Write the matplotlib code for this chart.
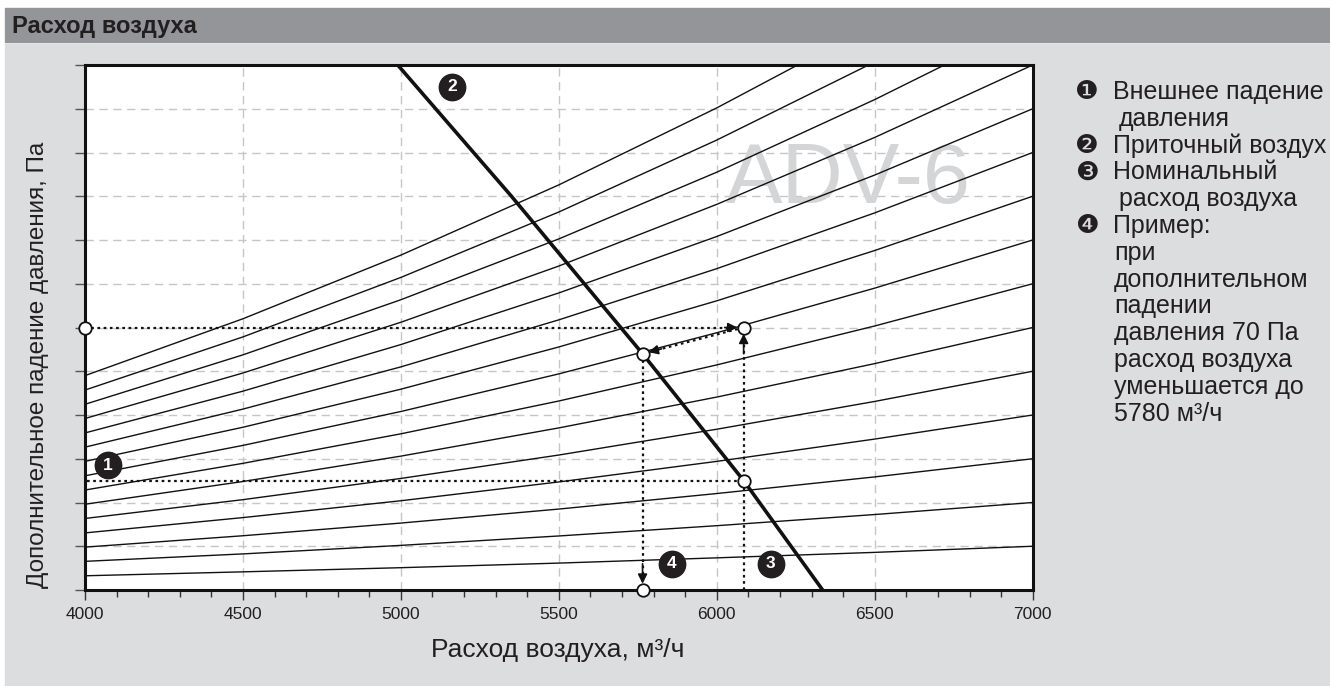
import matplotlib
matplotlib.use("Agg")
import matplotlib.pyplot as plt
from matplotlib.patches import Rectangle
from matplotlib.ticker import MultipleLocator

plt.rcParams['font.family'] = ['Liberation Sans', 'DejaVu Sans']

# ---- data ----
flow_ticks = [4000, 4500, 5000, 5500, 6000, 6500, 7000]
curve_flow = [4000, 4500, 5000, 5500, 6000, 6500, 7000]
# system curves (Pa) read at the flows above
system_curves = [
    [6.5, 8.3, 10.2, 12.3, 14.7, 17.2, 20],
    [13.1, 16.5, 20.4, 24.7, 29.4, 34.5, 40],
    [19.6, 24.8, 30.6, 37.0, 44.1, 51.7, 60],
    [26.1, 33.1, 40.8, 49.4, 58.8, 69.0, 80],
    [32.7, 41.3, 51.0, 61.7, 73.5, 86.2, 100],
    [39.2, 49.6, 61.2, 74.1, 88.2, 103.5, 120],
    [45.7, 57.9, 71.4, 86.4, 102.9, 120.7, 140],
    [52.2, 66.1, 81.6, 98.8, 117.6, 138.0, 160],
    [58.8, 74.4, 91.8, 111.1, 132.2, 155.2, 180],
    [65.3, 82.7, 102.0, 123.5, 146.9, 172.4, 200],
    [71.8, 90.9, 112.2, 135.8, 161.6, 189.7, 220],
    [78.4, 99.2, 122.4, 148.1, 176.3, 206.9, 240],
    [84.9, 107.5, 132.7, 160.5, 191.0, 224.2, 260],
    [91.4, 115.7, 142.9, 172.8, 205.7, 241.4, 280],
    [98.0, 124.0, 153.1, 185.2, 220.4, 258.7, 300],
]
# supply air (fan) curve
fan_flow = [4990, 5350, 5765, 6085, 6335]
fan_pa = [240, 180, 108, 50, 0]

# worked example
nominal_flow = 6085
external_pa = 50
extra_pa = 120
reduced_flow = 5765
reduced_pa = 108

badges = [('1', 4073, 57), ('2', 5162, 230), ('3', 6170, 12), ('4', 5857, 12)]

legend_rows = [
    ('❶', 'Внешнее падение', 0), (None, 'давления', 1),
    ('❷', 'Приточный воздух', 0),
    ('❸', 'Номинальный', 0), (None, 'расход воздуха', 1),
    ('❹', 'Пример:', 0), (None, 'при', 2), (None, 'дополнительном', 2),
    (None, 'падении', 2), (None, 'давления 70 Па', 2),
    (None, 'расход воздуха', 2), (None, 'уменьшается до', 2),
    (None, '5780 м³/ч', 2),
]

W, H = 1330, 686
fig = plt.figure(figsize=(W / 100, H / 100), dpi=100, facecolor='white')

# background panels
fig.patches.append(Rectangle((5 / W, 0), 1, 1 - 44 / H, transform=fig.transFigure,
                             color='#dcdddf', zorder=-10))
fig.patches.append(Rectangle((5 / W, 1 - 42 / H), 1, 34 / H, transform=fig.transFigure,
                             color='#939598', zorder=-10))
fig.text(12 / W, 1 - 26 / H, 'Расход воздуха', fontsize=17, fontweight='bold',
         color='#231f20', va='center', ha='left')

ax = fig.add_axes([85 / W, 96 / H, 947.7 / W, 525 / H])
ax.set_zorder(2)
ax.set_facecolor('white')
ax.set_xlim(4000, 7000)
ax.set_ylim(0, 240)

ax.xaxis.set_minor_locator(MultipleLocator(100))
ax.yaxis.set_major_locator(MultipleLocator(20))
ax.set_xticks(flow_ticks)
ax.set_xticklabels([str(v) for v in flow_ticks])
ax.set_yticklabels([])
ax.tick_params(axis='x', which='major', length=7, width=1, color='#333333',
               labelsize=12.5, pad=5, labelcolor='#231f20')
ax.tick_params(axis='x', which='minor', length=5, width=1, color='#333333')
ax.tick_params(axis='y', which='major', length=7, width=1, color='#555555')
for s in ax.spines.values():
    s.set_linewidth(2.2)
    s.set_color('#111111')

ax.grid(True, which='major', linestyle=(0, (6, 4)), color='#c6c6c6', linewidth=1)
ax.set_axisbelow(True)

ax.text(6415, 187, 'ADV-6', fontsize=61, color='#d4d5d7', ha='center', va='center',
        zorder=1)

for pa in system_curves:
    ax.plot(curve_flow, pa, color='#111111', linewidth=1.0, zorder=3)
ax.plot(fan_flow, fan_pa, color='#111111', linewidth=2.6, zorder=4)

dot = dict(color='#111111', linestyle=(0, (1.2, 1.6)), linewidth=1.6, zorder=5)
ax.plot([4000, nominal_flow], [extra_pa, extra_pa], **dot)
ax.plot([4005, nominal_flow], [external_pa, external_pa], **dot)
ax.plot([nominal_flow, nominal_flow], [0, extra_pa], **dot)
ax.plot([reduced_flow, reduced_flow], [reduced_pa, 0], **dot)
ax.plot([nominal_flow, reduced_flow], [extra_pa, reduced_pa], **dot)

head = dict(arrowstyle='-|>', color='#111111', lw=1.2, mutation_scale=14,
            shrinkA=0, shrinkB=4.5)
ax.annotate('', xy=(nominal_flow, extra_pa), xytext=(nominal_flow - 60, extra_pa),
            arrowprops=head, zorder=6)
ax.annotate('', xy=(nominal_flow, extra_pa), xytext=(nominal_flow, extra_pa - 12),
            arrowprops=head, zorder=6)
ax.annotate('', xy=(reduced_flow, reduced_pa),
            xytext=(reduced_flow + 60, reduced_pa + 60 * (extra_pa - reduced_pa) / (nominal_flow - reduced_flow)),
            arrowprops=head, zorder=6)
ax.annotate('', xy=(reduced_flow, 0), xytext=(reduced_flow, 12),
            arrowprops=head, zorder=6)

circ = dict(marker='o', markersize=9, markerfacecolor='white', markeredgecolor='#111111',
            markeredgewidth=1.3, linestyle='none', zorder=7, clip_on=False)
ax.plot([4000, nominal_flow, reduced_flow, nominal_flow, reduced_flow],
        [extra_pa, extra_pa, reduced_pa, external_pa, 0], **circ)

for lbl, bx, by in badges:
    ax.plot(bx, by, marker='o', markersize=19, color='#231f20', zorder=8)
    ax.text(bx, by, lbl, color='white', fontsize=12.5, fontweight='bold',
            ha='center', va='center', zorder=9)

fig.text(38 / W, 1 - 365 / H, 'Дополнительное падение давления, Па', rotation=90,
         fontsize=17.5, color='#231f20', ha='center', va='center')
fig.text(558 / W, 1 - 650 / H, 'Расход воздуха, м³/ч', fontsize=19,
         color='#231f20', ha='center', va='center')

indent = {0: 1113, 1: 1119, 2: 1114}
y0, step = 92, 26.8
for i, (bullet, txt, lvl) in enumerate(legend_rows):
    y = 1 - (y0 + i * step) / H
    if bullet:
        fig.text(1087 / W, y, bullet, fontsize=19, family='DejaVu Sans',
                 color='#231f20', ha='center', va='center')
    fig.text(indent[lvl] / W, y, txt, fontsize=18, color='#231f20',
             ha='left', va='center')

fig.savefig('out.png', dpi=100, facecolor=fig.get_facecolor())
